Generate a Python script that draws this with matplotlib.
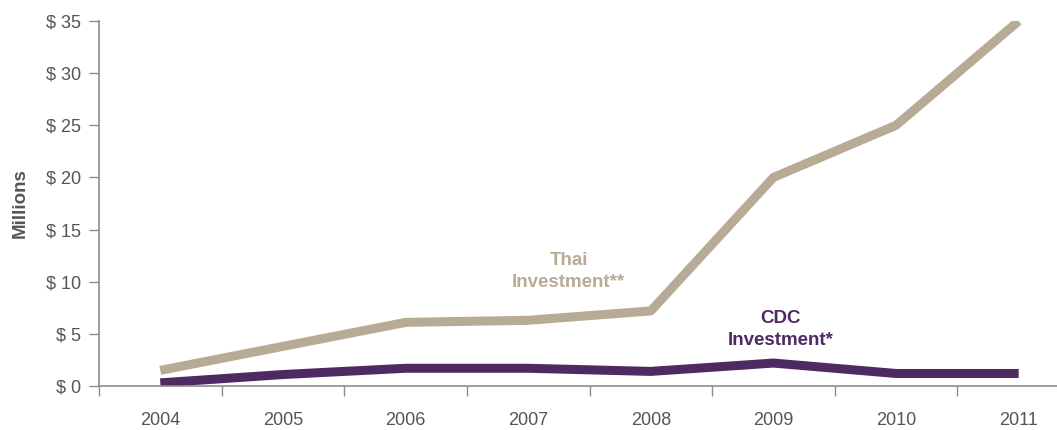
import matplotlib
matplotlib.use("Agg")
import matplotlib.pyplot as plt
import numpy as np

years = ["2004", "2005", "2006", "2007", "2008", "2009", "2010", "2011"]
thai = [1.5, 3.8, 6.1, 6.3, 7.2, 20.0, 25.0, 35.0]
cdc = [0.3, 1.1, 1.7, 1.7, 1.4, 2.2, 1.2, 1.2]
y_ticks = [0, 5, 10, 15, 20, 25, 30, 35]

THAI_COLOR = "#b8ab95"
CDC_COLOR = "#4e2a62"
GREY = "#555555"
AXIS_GREY = "#8c8c8c"

plt.rcParams["font.family"] = ["Liberation Sans", "DejaVu Sans"]

W, H = 1057, 430
fig = plt.figure(figsize=(W / 100, H / 100), dpi=100)
ax = fig.add_axes([99 / W, (H - 386) / H, (1080 - 99) / W, (386 - 21) / H])

x = np.arange(len(years))
ax.plot(x, thai, color=THAI_COLOR, linewidth=6.5, solid_capstyle="butt", solid_joinstyle="round")
ax.plot(x, cdc, color=CDC_COLOR, linewidth=6.5, solid_capstyle="butt", solid_joinstyle="round")

ax.set_xlim(-0.5, len(years) - 0.5)
ax.set_ylim(0, 35)

# y axis
ax.set_yticks(y_ticks)
ax.set_yticklabels([f"$ {v}" for v in y_ticks])
ax.tick_params(axis="y", direction="out", length=7, width=1, color=AXIS_GREY,
               labelsize=13, labelcolor=GREY, pad=6)

# x axis: ticks at category boundaries, labels at centers
ax.set_xticks(np.arange(-0.5, len(years), 1.0))
ax.set_xticklabels([])
ax.set_xticks(x, minor=True)
ax.set_xticklabels(years, minor=True)
ax.tick_params(axis="x", which="major", direction="out", length=7, width=1, color=AXIS_GREY)
ax.tick_params(axis="x", which="minor", length=0, labelsize=13, labelcolor=GREY, pad=19)

for s in ["top", "right"]:
    ax.spines[s].set_visible(False)
for s in ["left", "bottom"]:
    ax.spines[s].set_color(AXIS_GREY)
    ax.spines[s].set_linewidth(1.2)

ax.set_ylabel("Millions", fontsize=13.5, fontweight="bold", color=GREY, labelpad=12)

ax.text(3.33, 11.0, "Thai\nInvestment**", color=THAI_COLOR, fontsize=13.5, fontweight="bold",
        ha="center", va="center", linespacing=1.35)
ax.text(5.06, 5.4, "CDC\nInvestment*", color=CDC_COLOR, fontsize=13.5, fontweight="bold",
        ha="center", va="center", linespacing=1.35)

fig.savefig("out.png", dpi=100)
